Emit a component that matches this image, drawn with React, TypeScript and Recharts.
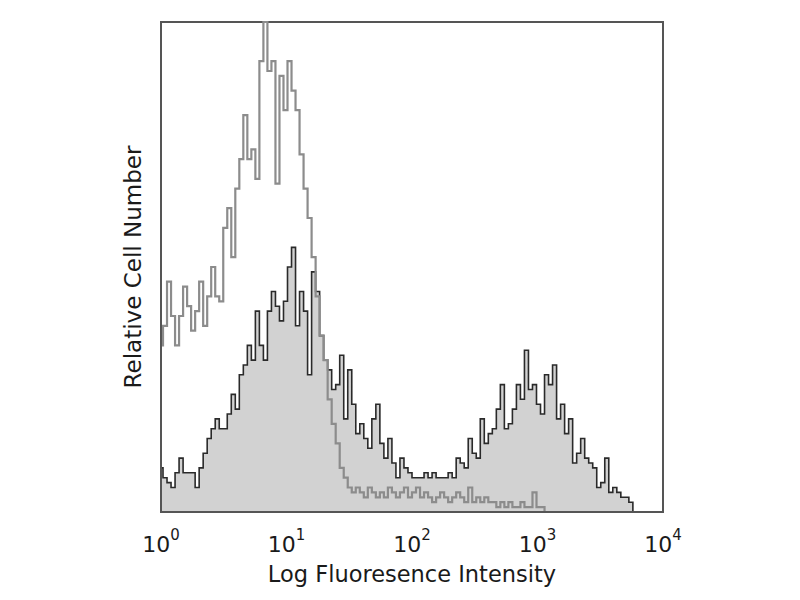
import { ComposedChart, Area, Line, XAxis, YAxis, ReferenceArea } from "recharts";

// histogram channels, 4px apart, spanning 10^0 .. 10^4 (values as % of max count)
const control = [
  34, 38, 47, 40, 34, 40, 46, 42, 37, 41, 47, 38, 44, 50, 44, 43, 58, 62, 52, 66,
  72, 81, 72, 74, 68, 92, 100, 90, 92, 67, 89, 82, 92, 86, 82, 73, 66, 60, 52, 44,
  36, 31, 23, 18, 14, 9, 7, 5, 4, 5, 4, 3, 5, 4, 3, 4, 3, 5, 4, 3,
  4, 5, 3, 4, 5, 3, 4, 3, 2, 3, 4, 3, 2, 3, 4, 3, 2, 5, 2, 3,
  2, 3, 2, 2, 1, 2, 1, 2, 1, 1, 2, 1, 1, 4, 1, 1, 0, 0, 0, 0,
  0, 0, 0, 0, 0, 0, 0, 0, 0, 0, 0, 0, 0, 0, 0, 0, 0, 0, 0, 0,
  0, 0, 0, 0, 0, 0,
];

const stained = [
  9, 7, 6, 5, 8, 11, 8, 8, 8, 5, 9, 12, 15, 17, 19, 17, 17, 20, 24, 21,
  28, 30, 34, 31, 41, 34, 31, 41, 45, 42, 39, 43, 50, 54, 38, 45, 41, 28, 49, 45,
  36, 31, 29, 25, 26, 32, 19, 29, 22, 16, 18, 15, 13, 19, 22, 14, 11, 15, 10, 7,
  11, 9, 8, 7, 7, 7, 8, 7, 8, 7, 7, 7, 8, 7, 11, 10, 9, 15, 12, 11,
  19, 14, 16, 17, 21, 26, 17, 18, 21, 26, 23, 33, 25, 26, 22, 20, 28, 26, 30, 19,
  22, 16, 19, 10, 12, 15, 11, 10, 9, 5, 6, 11, 4, 5, 4, 3, 3, 2, 0, 0,
  0, 0, 0, 0, 0, 0,
];

const decadeTicks = [0, 1, 2, 3, 4];
const exponentLabels = ["0", "1", "2", "3", "4"];

const data = stained.map((v, i) => ({ decade: i * 0.032, stained: v, control: control[i] }));

const FONT = "DejaVu Sans";

function DecadeTick({ x, y, payload }: any) {
  const idx = decadeTicks.indexOf(payload.value);
  return (
    <text x={x} y={y + 40} textAnchor="middle" fontFamily={FONT} fontSize={22} fill="#1a1a1a">
      <tspan>10</tspan>
      <tspan dy={-12} fontSize={15}>{exponentLabels[idx]}</tspan>
    </text>
  );
}

export default function App() {
  return (
    <div style={{ position: "absolute", left: 0, top: 0, width: 800, height: 600, background: "#fff" }}>
      <ComposedChart
        width={800}
        height={600}
        data={data}
        margin={{ top: 22, right: 137, bottom: 8, left: 105 }}
      >
        <XAxis
          dataKey="decade"
          type="number"
          domain={[0, 4]}
          ticks={decadeTicks}
          tick={<DecadeTick />}
          tickLine={false}
          tickSize={0}
          tickMargin={0}
          axisLine={{ stroke: "#555", strokeWidth: 2 }}
          height={80}
          label={{
            value: "Log Fluoresence Intensity",
            position: "insideBottom",
            offset: 10,
            fontFamily: FONT,
            fontSize: 22.5,
            fill: "#1a1a1a",
          }}
        />
        <YAxis
          type="number"
          domain={[0, 100]}
          width={56}
          tick={false}
          tickLine={false}
          axisLine={{ stroke: "#555", strokeWidth: 2 }}
          label={{
            value: "Relative Cell Number",
            angle: -90,
            position: "center",
            fontFamily: FONT,
            fontSize: 23,
            fill: "#1a1a1a",
          }}
        />
        <Area
          dataKey="stained"
          type="step"
          fill="#d2d2d2"
          fillOpacity={1}
          stroke="#2a2a2a"
          strokeWidth={1.6}
          isAnimationActive={false}
        />
        <Line
          dataKey="control"
          type="step"
          stroke="#8c8c8c"
          strokeWidth={2.2}
          dot={false}
          isAnimationActive={false}
        />
        <ReferenceArea x1={0} x2={4} y1={0} y2={100} fill="none" stroke="#555" strokeWidth={2} ifOverflow="visible" />
      </ComposedChart>
    </div>
  );
}
